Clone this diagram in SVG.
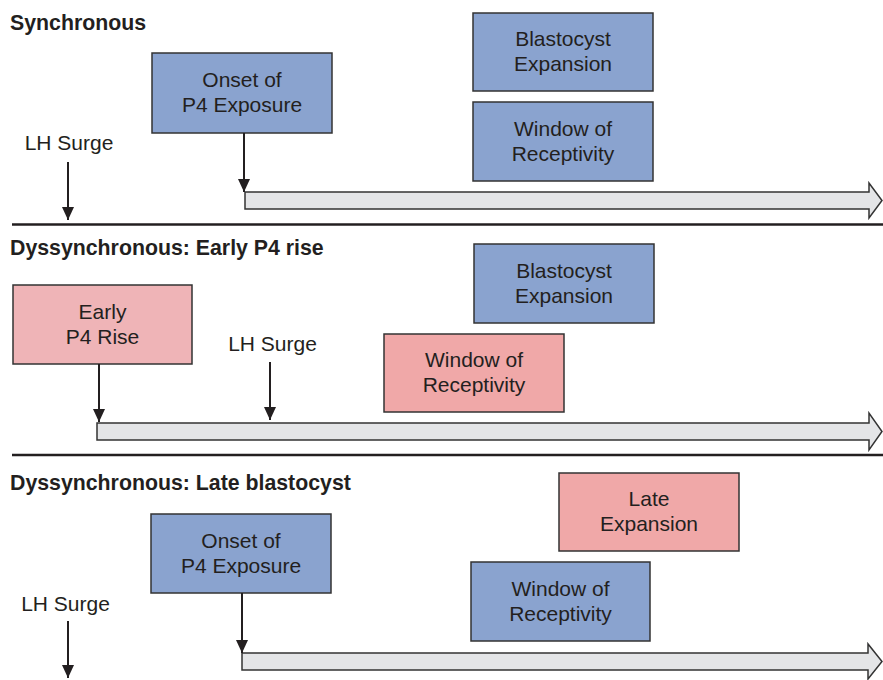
<svg xmlns="http://www.w3.org/2000/svg" width="883" height="680" viewBox="0 0 883 680">
<style>
.title{font-family:"Liberation Sans",Arial,sans-serif;font-size:21.3px;font-weight:bold;fill:#231f20}
.lbl{font-family:"Liberation Sans",Arial,sans-serif;font-size:21px;fill:#231f20;text-anchor:middle}
.blue{fill:#8aa3cf;stroke:#333;stroke-width:1.5}
.pink{fill:#f0a8a8;stroke:#333;stroke-width:1.5}
.pinkl{fill:#efb4b7;stroke:#333;stroke-width:1.5}
.tl{fill:#e4e5e7;stroke:#333;stroke-width:1.5}
.sep{stroke:#231f20;stroke-width:2.5}
.arr{stroke:#231f20;stroke-width:2;fill:none;marker-end:url(#ah)}
</style>
<defs>
<marker id="ah" markerUnits="userSpaceOnUse" markerWidth="13" markerHeight="12" refX="13" refY="6" orient="auto" viewBox="0 0 13 12">
<path d="M0,0 L13,6 L0,12 Z" fill="#231f20"/>
</marker>
</defs>
<rect width="883" height="680" fill="#fff"/>
<g id="titles">
<text class="title" x="10" y="30">Synchronous</text>
<text class="title" x="10" y="255">Dyssynchronous: Early P4 rise</text>
<text class="title" x="10" y="490">Dyssynchronous: Late blastocyst</text>
</g>
<g id="separators">
<line class="sep" x1="12" y1="224.5" x2="883" y2="224.5"/>
<line class="sep" x1="12" y1="455" x2="883" y2="455"/>
</g>
<g id="timelines">
<path class="tl" d="M245,192 L869,192 L869,183 L882,200.5 L869,218 L869,209 L245,209 Z"/>
<path class="tl" d="M97,423 L869,423 L869,413 L882,431.5 L869,450 L869,440 L97,440 Z"/>
<path class="tl" d="M242,653 L868,653 L868,644 L882,661.5 L868,679 L868,670 L242,670 Z"/>
</g>
<g id="s1-onset"><rect class="blue" x="152" y="53" width="180" height="80"/><text class="lbl" x="242" y="87">Onset of</text><text class="lbl" x="242" y="112">P4 Exposure</text></g>
<g id="s1-blast"><rect class="blue" x="473" y="13" width="180" height="78"/><text class="lbl" x="563" y="46">Blastocyst</text><text class="lbl" x="563" y="71">Expansion</text></g>
<g id="s1-window"><rect class="blue" x="473" y="102" width="180" height="79"/><text class="lbl" x="563" y="136">Window of</text><text class="lbl" x="563" y="161">Receptivity</text></g>
<g id="s1-lh"><text class="lbl" x="69" y="150">LH Surge</text></g>
<g id="s2-early"><rect class="pinkl" x="13" y="285" width="179" height="79"/><text class="lbl" x="102.5" y="318.5">Early</text><text class="lbl" x="102.5" y="343.5">P4 Rise</text></g>
<g id="s2-blast"><rect class="blue" x="474" y="244" width="180" height="79"/><text class="lbl" x="564" y="277.5">Blastocyst</text><text class="lbl" x="564" y="302.5">Expansion</text></g>
<g id="s2-window"><rect class="pink" x="384" y="334" width="180" height="78"/><text class="lbl" x="474" y="367">Window of</text><text class="lbl" x="474" y="392">Receptivity</text></g>
<g id="s2-lh"><text class="lbl" x="272.5" y="351">LH Surge</text></g>
<g id="s3-onset"><rect class="blue" x="151" y="514" width="180" height="79"/><text class="lbl" x="241" y="547.5">Onset of</text><text class="lbl" x="241" y="572.5">P4 Exposure</text></g>
<g id="s3-late"><rect class="pink" x="559" y="473" width="180" height="78"/><text class="lbl" x="649" y="506">Late</text><text class="lbl" x="649" y="531">Expansion</text></g>
<g id="s3-window"><rect class="blue" x="471" y="562" width="179" height="79"/><text class="lbl" x="560.5" y="595.5">Window of</text><text class="lbl" x="560.5" y="620.5">Receptivity</text></g>
<g id="s3-lh"><text class="lbl" x="65.5" y="611">LH Surge</text></g>
<g id="connectors">
<line class="arr" x1="68" y1="162" x2="68" y2="220"/>
<line class="arr" x1="244" y1="133" x2="244" y2="192"/>
<line class="arr" x1="99" y1="364" x2="99" y2="422"/>
<line class="arr" x1="270" y1="362" x2="270" y2="420"/>
<line class="arr" x1="68" y1="621" x2="68" y2="678"/>
<line class="arr" x1="242" y1="593" x2="242" y2="653"/>
</g>
</svg>
